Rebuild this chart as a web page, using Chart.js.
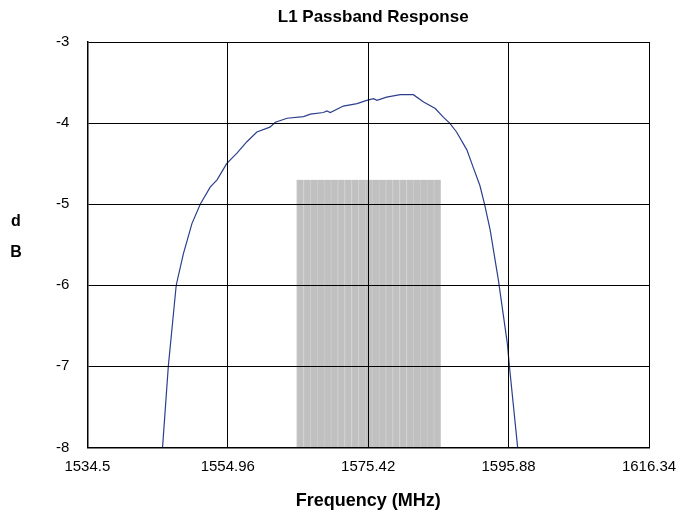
<!DOCTYPE html>
<html>
<head>
<meta charset="utf-8">
<script src="https://cdn.jsdelivr.net/npm/chart.js@4"></script>
<style>
  html, body { margin: 0; padding: 0; background: #fff; }
  #wrap { width: 695px; height: 516px; }
</style>
</head>
<body>
<div id="wrap"><canvas id="chart" width="695" height="516"></canvas></div>
<script>
// response curve
const freqMHz = [1545.46, 1546.3, 1547.45, 1548.5, 1549.74, 1550.95, 1552.4, 1553.4, 1554.8, 1556.3,
  1557.75, 1559.2, 1561.1, 1561.9, 1563.6, 1566.0, 1567.0, 1568.9, 1569.4, 1569.9, 1571.8, 1573.8,
  1575.2, 1576.2, 1576.7, 1578.1, 1580.1, 1582.0, 1583.5, 1585.2, 1586.4, 1587.3, 1588.3, 1589.8,
  1590.7, 1591.7, 1592.4, 1593.2, 1594.4, 1595.7, 1596.0, 1597.2];
const respDb = [-8.0, -7.0, -6.0, -5.61, -5.24, -5.0, -4.79, -4.70, -4.50, -4.37,
  -4.23, -4.11, -4.05, -3.99, -3.94, -3.92, -3.89, -3.87, -3.85, -3.87, -3.79, -3.76,
  -3.72, -3.70, -3.72, -3.68, -3.65, -3.65, -3.74, -3.82, -3.93, -4.0, -4.11, -4.33,
  -4.54, -4.77, -5.01, -5.32, -5.94, -6.72, -7.0, -8.0];

// shaded band (bars)
const bandFreq = [1565.5, 1566.5, 1567.5, 1568.5, 1569.5, 1570.5, 1571.5, 1572.5, 1573.5, 1574.5,
  1575.5, 1576.5, 1577.5, 1578.5, 1579.5, 1580.5, 1581.5, 1582.5, 1583.5, 1584.5, 1585.5];
const bandTop = [-4.7, -4.7, -4.7, -4.7, -4.7, -4.7, -4.7, -4.7, -4.7, -4.7,
  -4.7, -4.7, -4.7, -4.7, -4.7, -4.7, -4.7, -4.7, -4.7, -4.7, -4.7];
const bandBase = -8;

const xTicks = [1534.5, 1554.96, 1575.42, 1595.88, 1616.34];
const yMin = -8, yMax = -3;

const FONT = "'Liberation Sans', Arial, sans-serif";

// title over the plot area and the stacked "d / B" label
const extraText = {
  id: 'extraText',
  afterDraw(chart) {
    const { ctx, chartArea } = chart;
    ctx.save();
    ctx.fillStyle = '#000';
    ctx.textAlign = 'center';
    ctx.textBaseline = 'middle';
    ctx.font = 'bold 17px ' + FONT;
    ctx.fillText('L1 Passband Response', (chartArea.left + chartArea.right) / 2 + 5, 17);
    ctx.font = 'bold 16px ' + FONT;
    ctx.fillText('d', 16, 222);
    ctx.fillText('B', 16, 253);
    ctx.restore();
  }
};

new Chart(document.getElementById('chart'), {
  type: 'line',
  data: {
    datasets: [{
      type: 'bar',
      data: bandFreq.map((f, i) => ({ x: f, y: [bandBase, bandTop[i]] })),
      backgroundColor: '#c0c0c0',
      borderColor: '#cbcbcb',
      borderWidth: { left: 1, right: 0, top: 0, bottom: 0 },
      borderSkipped: false,
      barPercentage: 1,
      categoryPercentage: 1,
      order: 2
    }, {
      type: 'line',
      data: freqMHz.map((f, i) => ({ x: f, y: respDb[i] })),
      borderColor: '#2b3f8c',
      borderWidth: 1.2,
      pointRadius: 0,
      tension: 0,
      fill: false,
      order: 1
    }]
  },
  options: {
    responsive: false,
    animation: false,
    layout: { padding: { top: 42, right: 46, left: 38, bottom: 4 } },
    plugins: { legend: { display: false }, tooltip: { enabled: false }, title: { display: false } },
    scales: {
      x: {
        type: 'linear',
        offset: false,
        min: xTicks[0],
        max: xTicks[xTicks.length - 1],
        afterBuildTicks: axis => { axis.ticks = xTicks.map(v => ({ value: v })); },
        grid: { color: '#000', lineWidth: 1, drawTicks: false, offset: false, z: 1 },
        border: { color: '#000', width: 1.5, z: 1 },
        ticks: {
          color: '#000',
          font: { family: FONT, size: 15 },
          padding: 10,
          maxRotation: 0,
          callback: v => String(v)
        },
        title: {
          display: true,
          text: 'Frequency (MHz)',
          color: '#000',
          font: { family: FONT, size: 18, weight: 'bold' },
          padding: { top: 5, bottom: 0 }
        }
      },
      y: {
        min: yMin,
        max: yMax,
        ticks: {
          stepSize: 1,
          color: '#000',
          font: { family: FONT, size: 15 },
          padding: 18
        },
        grid: { color: '#000', lineWidth: 1, drawTicks: false, z: 1 },
        border: { color: '#000', width: 1.5, z: 1 }
      }
    }
  },
  plugins: [extraText]
});
</script>
</body>
</html>
